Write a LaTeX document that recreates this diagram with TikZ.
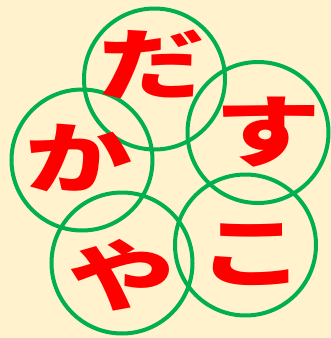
\documentclass[tikz,border=0pt]{standalone}
\usepackage{fontspec}
\newfontfamily\jp{Noto Sans CJK JP}
\definecolor{bg}{HTML}{FFF2CC}
\definecolor{ring}{HTML}{00B050}
\newcommand{\wide}[1]{\scalebox{1.37}[1]{#1}}
\begin{document}
\begin{tikzpicture}[x=1pt,y=-1pt,
  ringc/.style={circle,draw=ring,line width=4pt,minimum size=141pt,inner sep=0pt},
  kana/.style={text=red,font=\jp\bfseries\fontsize{78}{78}\selectfont,inner sep=0pt}]
\fill[bg] (0,0) rectangle (331,338);
\useasboundingbox (0,0) rectangle (331,338);
\node[ringc] (c1) at (154.5,79) {};
\node[ringc] (c2) at (258,132.5) {};
\node[ringc] (c3) at (245.5,245) {};
\node[ringc] (c4) at (122,263) {};
\node[ringc] (c5) at (82,160) {};
\node[kana] (t1) at (152,64) {\wide{だ}};
\node[kana] (t2) at (267.5,132) {\wide{す}};
\node[kana] (t3) at (252,254.5) {\wide{こ}};
\node[kana] (t4) at (121.5,275) {\wide{や}};
\node[kana] (t5) at (79,158) {\wide{か}};
\end{tikzpicture}
\end{document}
